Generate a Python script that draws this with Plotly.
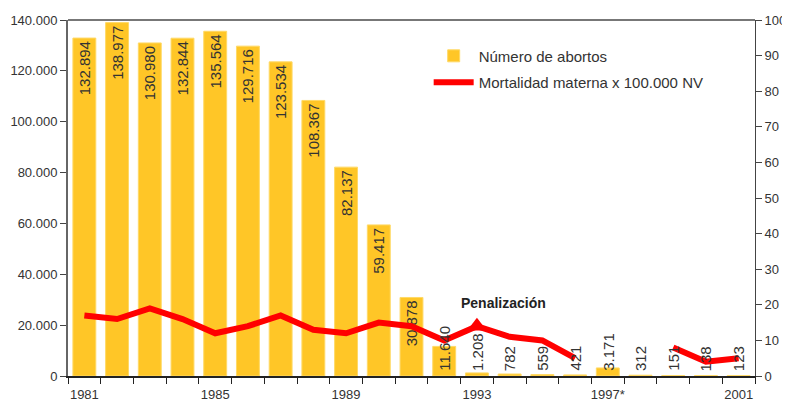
import plotly.graph_objects as go

years = [str(y) for y in range(1981, 2002)]
tick_labels = ["1981", "", "", "", "1985", "", "", "", "1989", "", "", "", "1993", "", "", "",
               "1997*", "", "", "", "2001"]
abortos = [132894, 138977, 130980, 132844, 135564, 129716, 123534, 108367, 82137, 59417,
           30878, 11640, 1208, 782, 559, 421, 3171, 312, 151, 138, 123]
mortalidad = [17, 16, 19, 16, 12, 14, 17, 13, 12, 15, 14, 10, 14, 11, 10, 5, None, None, 8, 4, 5]
penal_idx = years.index("1993")
n_inside = 11  # bars tall enough to hold their label inside

labels = [f"{v:,}".replace(",", ".") for v in abortos]
bar_text = [t if i < n_inside else "" for i, t in enumerate(labels)]

font_fam = "Liberation Sans Narrow, Arial Narrow, Liberation Sans, Arial"

fig = go.Figure()
fig.add_trace(go.Bar(
    x=years, y=abortos, name="Número de abortos", legendgroup="a",
    marker=dict(color="#FFC627", line=dict(color="#FFD966", width=1)),
    text=bar_text, textposition="inside", textangle=-90,
    insidetextanchor="end", cliponaxis=False, constraintext="none",
    textfont=dict(family=font_fam, size=15, color="#333333"),
))
fig.add_trace(go.Scatter(
    x=years, y=mortalidad, name="Mortalidad materna x 100.000 NV", legendgroup="b",
    mode="lines", yaxis="y2", connectgaps=False,
    line=dict(color="#FF0000", width=6),
))
fig.add_trace(go.Scatter(
    x=[years[penal_idx]], y=[mortalidad[penal_idx]], yaxis="y2", mode="markers",
    showlegend=False, marker=dict(color="#FF0000", size=17, symbol="triangle-up"),
))

# labels of the short bars, set from the baseline upwards
for i in range(n_inside, len(years)):
    fig.add_annotation(x=i, y=0, yref="y", text=labels[i], textangle=-90, showarrow=False,
                       xanchor="center", yanchor="bottom", yshift=3,
                       font=dict(family=font_fam, size=15, color="#333333"))

fig.add_annotation(x=penal_idx, y=20.5, yref="y2", text="<b>Penalización</b>", showarrow=False,
                   xshift=27, font=dict(family="Liberation Sans, Arial", size=14, color="#222222"))

fig.update_layout(
    width=782, height=396,
    margin=dict(l=60, r=35, t=12, b=28),
    paper_bgcolor="white", plot_bgcolor="white",
    separators=",.",
    bargap=0.3,
    font=dict(family=font_fam, size=13, color="#333333"),
    showlegend=True,
    legend=dict(x=0.525, y=0.945, xanchor="left", yanchor="top", bgcolor="rgba(0,0,0,0)",
                font=dict(family="Liberation Sans, Arial", size=15, color="#333333"),
                tracegroupgap=4, itemwidth=40),
    xaxis=dict(type="category", range=[-0.5, len(years) - 0.5], tickmode="array",
               tickvals=years, ticktext=tick_labels, tickangle=0, automargin=False,
               tickson="boundaries", ticks="outside", ticklen=6, tickcolor="#222222",
               ticklabelstandoff=5,
               showline=True, linecolor="#222222", linewidth=2, showgrid=False,
               tickfont=dict(size=13)),
    yaxis=dict(range=[0, 140000], dtick=20000, tickformat=",d", ticks="outside", ticklen=6,
               tickcolor="#444444", showline=True, linecolor="#666666", linewidth=2,
               showgrid=False, zeroline=False, tickfont=dict(size=13), automargin=False),
    yaxis2=dict(range=[0, 100], dtick=10, overlaying="y", side="right", ticks="outside", ticklen=6,
                tickcolor="#444444", showline=True, linecolor="#444444", linewidth=1,
                showgrid=False, zeroline=False, tickfont=dict(size=13), automargin=False),
    shapes=[dict(type="line", xref="paper", yref="paper", x0=0, x1=1, y0=1, y1=1,
                 line=dict(color="#777777", width=2))],
)

fig.write_html("out.html")
